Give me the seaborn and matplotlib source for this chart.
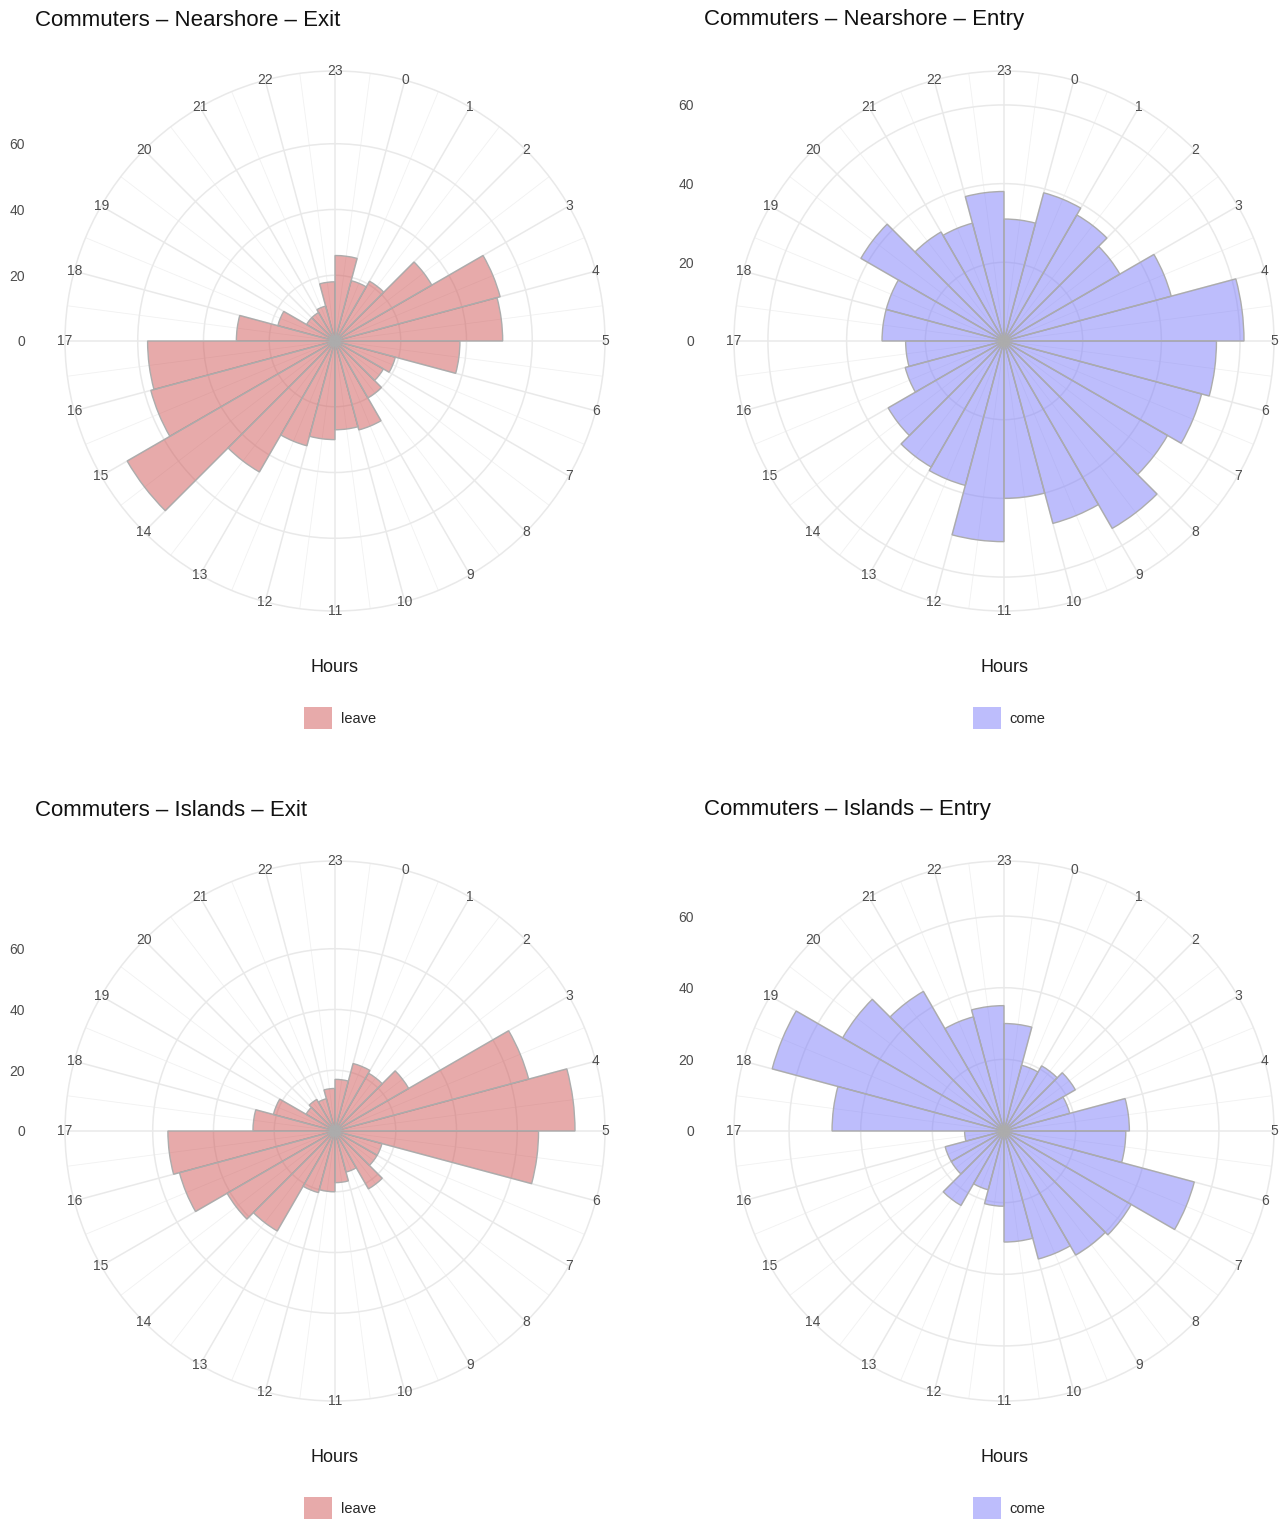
import numpy as np
import pandas as pd
import matplotlib
matplotlib.use("Agg")
import matplotlib.pyplot as plt
import seaborn as sns
from matplotlib.patches import Patch

# ---------------- data ----------------
hours = list(range(24))
nearshore_exit = [26, 19, 21, 34, 52, 51, 38, 19, 17, 20, 28, 27,
                  30, 33, 46, 73, 58, 57, 30, 18, 10, 10, 11, 18]
nearshore_entry = [31, 39, 37, 34, 44, 61, 54, 52, 48, 55, 48, 40,
                   51, 38, 37, 34, 26, 25, 31, 31, 42, 32, 31, 38]
islands_exit = [17, 23, 22, 28, 66, 79, 67, 16, 16, 22, 14, 17,
                20, 21, 38, 41, 53, 55, 27, 21, 11, 12, 11, 14]
islands_entry = [30, 19, 21, 23, 19, 35, 34, 55, 41, 40, 37, 31,
                 21, 17, 24, 17, 17, 11, 48, 67, 52, 45, 33, 35]
titles = ["Commuters \u2013 Nearshore \u2013 Exit",
          "Commuters \u2013 Nearshore \u2013 Entry",
          "Commuters \u2013 Islands \u2013 Exit",
          "Commuters \u2013 Islands \u2013 Entry"]
series_names = ["leave", "come", "leave", "come"]
radial_ticks = [0, 20, 40, 60]
x_title = "Hours"

# ---------------- style ----------------
sns.set_theme(style="white")
plt.rcParams["font.family"] = ["Liberation Sans", "DejaVu Sans"]

W, H = 1288, 1522
fig = plt.figure(figsize=(W / 100, H / 100), dpi=100)

palette = {"leave": (0.82, 0.34, 0.34), "come": (0.49, 0.49, 0.98)}
GRID = "#E9E9E9"
GRID_MINOR = "#F1F1F1"
EDGE = "#ACACAC"
TXT = "#4D4D4D"
R_OUT = 270  # px radius of outer circle


def fx(x):
    return x / W


def fy(y):
    return 1 - y / H


centers = [(335, 341), (1004, 341), (335, 1131), (1004, 1131)]
datasets = [nearshore_exit, nearshore_entry, islands_exit, islands_entry]

for vals, title, series, (cx, cy) in zip(datasets, titles, series_names, centers):
    color = palette[series]
    rect = [fx(cx - R_OUT), fy(cy + R_OUT), 2 * R_OUT / W, 2 * R_OUT / H]
    ax = fig.add_axes(rect, projection="polar")
    df = pd.DataFrame({
        "theta": np.deg2rad(np.array(hours) * 15 + 7.5),
        "count": vals,
    })
    sns.barplot(data=df, x="theta", y="count", native_scale=True, width=1,
                color=color, saturation=1, errorbar=None, ax=ax)
    for p in ax.patches:
        p.set_facecolor((*color, 0.5))
        p.set_edgecolor(EDGE)
        p.set_linewidth(1.0)
        p.set_zorder(2)

    rmax = max(vals) * 1.125
    ax.set_theta_zero_location("N")
    ax.set_theta_direction(-1)
    ax.set_xlim(0, 2 * np.pi)
    ax.set_ylim(0, rmax)
    ax.set_xlabel("")
    ax.set_ylabel("")
    ax.set_axisbelow(True)

    major = np.deg2rad(((np.array(hours) + 1) * 15) % 360)
    minor = np.deg2rad(np.array(hours) * 15 + 7.5)
    ax.set_xticks(major)
    ax.set_xticklabels([])
    ax.set_xticks(minor, minor=True)
    ax.set_yticks(radial_ticks[1:])
    ax.set_yticklabels([])
    ax.tick_params(length=0, which="both")
    ax.grid(True, which="major", color=GRID, linewidth=1.1)
    ax.xaxis.grid(True, which="minor", color=GRID_MINOR, linewidth=0.6)
    ax.spines["polar"].set_color(GRID)
    ax.spines["polar"].set_linewidth(1.1)
    ax.patch.set_alpha(0)

    for h, ang in zip(hours, major):
        ax.text(ang, rmax, str(h), ha="center", va="center",
                fontsize=10, color=TXT, clip_on=False, zorder=5)

    # radial axis labels (left side)
    ax2 = fig.add_axes(rect)
    ax2.set_ylim(-rmax, rmax)
    ax2.set_xlim(0, 1)
    ax2.set_yticks(radial_ticks)
    ax2.set_yticklabels([str(t) for t in radial_ticks])
    ax2.set_xticks([])
    for s in ax2.spines.values():
        s.set_visible(False)
    ax2.patch.set_visible(False)
    ax2.tick_params(axis="y", length=0, pad=28.8, labelsize=10,
                    labelcolor=TXT)

    fig.text(fx(cx - 300), fy(cy - 321), title, ha="left", va="center",
             fontsize=16, color="#111111")
    fig.text(fx(cx), fy(cy + 326), x_title, ha="center", va="center",
             fontsize=13, color="#1A1A1A")
    handle = Patch(facecolor=(*color, 0.5), edgecolor="none")
    fig.legend(handles=[handle], labels=[series], loc="center",
               bbox_to_anchor=(fx(cx + 5), fy(cy + 377)), frameon=False,
               fontsize=10.5, handlelength=1.9, handleheight=1.9,
               handletextpad=0.6, borderpad=0, borderaxespad=0)

fig.savefig("out.png", dpi=100, facecolor="white")
